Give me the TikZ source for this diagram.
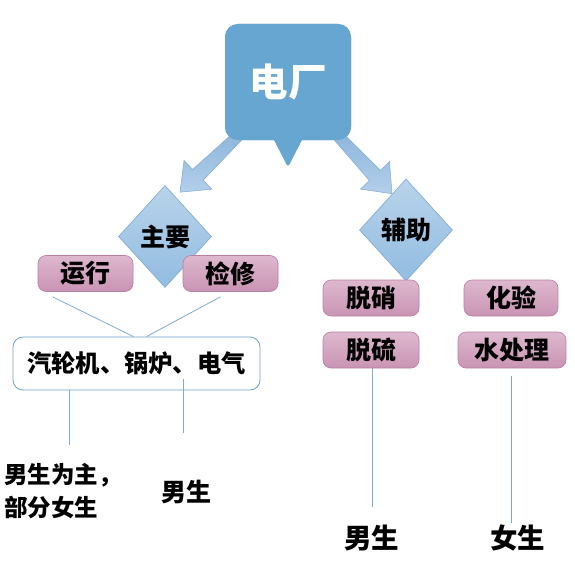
\documentclass[tikz,border=0pt]{standalone}
\usepackage{fontspec}
\newfontfamily\cjk{Noto Sans CJK SC}
\usetikzlibrary{shapes.geometric,calc}
\definecolor{calloutblue}{HTML}{66A6D1}
\definecolor{arrowtop}{HTML}{8DB6DC}
\definecolor{arrowbot}{HTML}{B3CFEA}
\definecolor{arrowline}{HTML}{7FAAD5}
\definecolor{diatop}{HTML}{B9D3EA}
\definecolor{diabot}{HTML}{92BCE1}
\definecolor{dialine}{HTML}{7DA9D5}
\definecolor{pinktop}{HTML}{DEB8CE}
\definecolor{pinkbot}{HTML}{C994B3}
\definecolor{pinkline}{HTML}{BA80A3}
\definecolor{linkblue}{HTML}{7EAACF}
\definecolor{boxline}{HTML}{6FA3CF}
\newcommand{\blockarrowbetween}[2]{%
  \coordinate (hb) at ($(#2)!25pt!(#1)$);
  \path[blockarrow] ($(#1)!5.5pt!90:(#2)$) -- ($(hb)!7.5pt!90:(#2)$) -- ($(hb)!20pt!90:(#2)$) -- (#2)
    -- ($(hb)!20pt!-90:(#2)$) -- ($(hb)!7.5pt!-90:(#2)$) -- ($(#1)!5.5pt!-90:(#2)$) -- cycle;}
\begin{document}
\begin{tikzpicture}[x=1pt,y=-1pt,
  calloutbox/.style={rectangle, rounded corners=13pt, fill=calloutblue, minimum width=126pt, minimum height=116pt, text=white, inner sep=0pt, font=\cjk\bfseries\fontsize{38.5}{40}\selectfont},
  decisionbox/.style={diamond, top color=diatop, bottom color=diabot, draw=dialine, line width=0.6pt, minimum width=93pt, minimum height=102pt, inner sep=0pt, font=\cjk\bfseries\fontsize{25}{26}\selectfont},
  tagbox/.style={rectangle, rounded corners=8pt, top color=pinktop, bottom color=pinkbot, draw=pinkline, line width=0.6pt, minimum height=36pt, inner sep=0pt, font=\cjk\bfseries\fontsize{25}{26}\selectfont},
  groupbox/.style={rectangle, rounded corners=10pt, draw=boxline, line width=0.8pt, fill=white, minimum width=247pt, minimum height=53pt, inner sep=0pt, font=\cjk\bfseries\fontsize{24.3}{26}\selectfont},
  linkline/.style={draw=linkblue, line width=0.8pt},
  notetext/.style={inner sep=0pt, font=\cjk\bfseries\fontsize{25}{26}\selectfont},
  blockarrow/.style={top color=arrowtop, bottom color=arrowbot, draw=arrowline, line width=0.5pt, line join=miter}
]
\useasboundingbox (0,0) rectangle (575,586);
\fill[white] (0,0) rectangle (575,586);

% diamonds
\node[decisionbox] (main) at (165,236.5) {主要};
\node[decisionbox] (aux) at (406,230) {辅助};

% callout with arrows
\node[calloutbox, text opacity=0] (plant) at (288,82) {电厂};
\coordinate (la0) at ([shift={(13,-4)}]plant.south west);
\coordinate (la1) at ([shift={(15,7)}]main.north);
\coordinate (ra0) at ([shift={(-13,-4)}]plant.south east);
\coordinate (ra1) at ([shift={(-14,15)}]aux.north);
\blockarrowbetween{la0}{la1}
\blockarrowbetween{ra0}{ra1}
\node[calloutbox] at (plant) {电厂};
\fill[calloutblue, rounded corners=3pt] ([shift={(-17,-6)}]plant.south) -- ([shift={(17,-6)}]plant.south) -- ([shift={(0,27)}]plant.south) -- cycle;

% pink tags
\node[tagbox, minimum width=95pt] (run) at (85.5,273.5) {运行};
\node[tagbox, minimum width=95pt] (fix) at (230.5,273.5) {检修};
\node[tagbox, minimum width=96pt] (dx) at (371,298) {脱硝};
\node[tagbox, minimum width=94pt] (hy) at (511,298) {化验};
\node[tagbox, minimum width=96pt] (dl) at (371,350) {脱硫};
\node[tagbox, minimum width=108pt] (water) at (512,350) {水处理};

% group box
\node[groupbox] (grp) at (136.5,363.5) {汽轮机、锅炉、电气};
\draw[linkline] ([shift={(-33,5)}]run.south) -- ([shift={(-3,0)}]grp.north);
\draw[linkline] ([shift={(-10,5)}]fix.south) -- ([shift={(10,0)}]grp.north);

% notes
\node[notetext, anchor=west, align=left, font=\cjk\bfseries\fontsize{23.5}{33}\selectfont] (n1) at (4,491.5) {男生为主，\\部分女生};
\node[notetext] (n2) at (186.5,492) {男生};
\node[notetext, font=\cjk\bfseries\fontsize{27.5}{29}\selectfont] (n3) at (371.5,538) {男生};
\node[notetext, font=\cjk\bfseries\fontsize{27.5}{29}\selectfont] (n4) at (517.5,538) {女生};

\coordinate (e1) at (69,445);
\coordinate (e2) at (183,433);
\coordinate (e3) at (372,507);
\coordinate (e4) at (511,523);
\draw[linkline] (grp.south -| e1) -- (e1);
\draw[linkline] ([shift={(0,-11)}]grp.south -| e2) -- (e2);
\draw[linkline] (dl.south -| e3) -- (e3);
\draw[linkline] ([shift={(0,8)}]water.south -| e4) -- (e4);
\end{tikzpicture}
\end{document}
